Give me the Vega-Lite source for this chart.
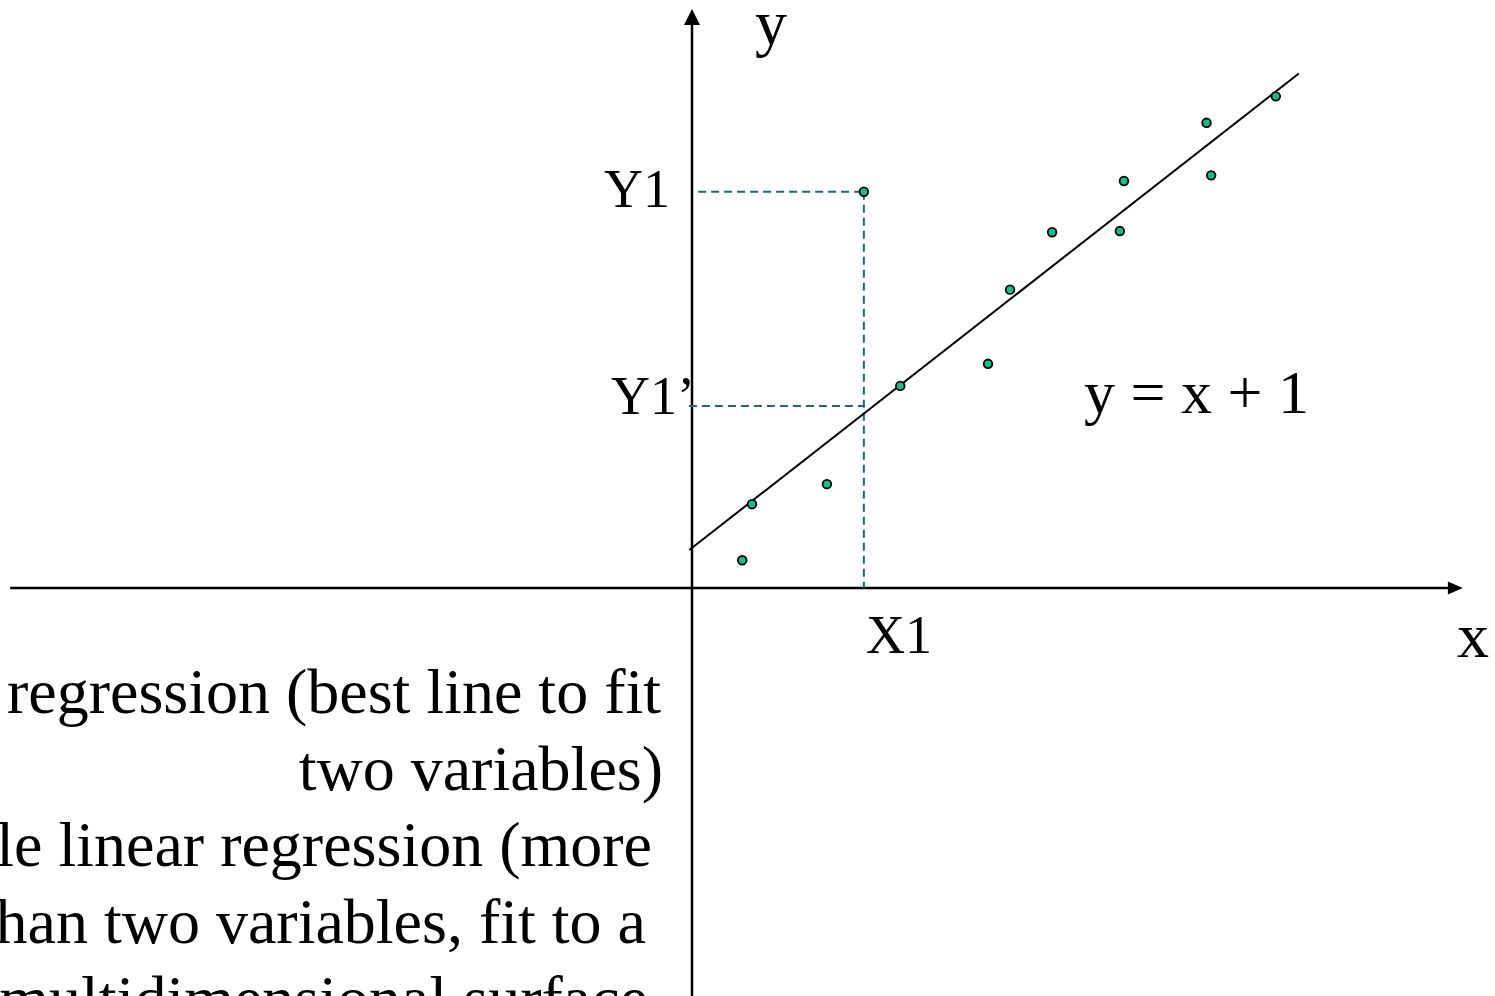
{
  "$schema": "https://vega.github.io/schema/vega-lite/v6.json",
  "width": 1495,
  "height": 996,
  "autosize": {"type": "none"},
  "padding": 0,
  "background": "white",
  "config": {"view": {"stroke": null}},
  "datasets": {
    "axes": [
      {"x": -13.29, "y": 0, "x2": 14.75, "y2": 0},
      {"x": 0, "y": -10.4, "x2": 0, "y2": 14.05}
    ],
    "arrows": [
      {"x": 14.88, "y": 0, "shape": "M-1,-0.87L1,0L-1,0.87Z", "size": 225},
      {"x": 0, "y": 14.24, "shape": "M-1,1L0,-1L1,1Z", "size": 256}
    ],
    "fit": [
      {"x": -0.053, "y": 0.947, "x2": 11.83, "y2": 12.83}
    ],
    "guides": [
      {"x": 0.12, "y": 9.88, "x2": 3.35, "y2": 9.88},
      {"x": 3.35, "y": 9.88, "x2": 3.35, "y2": 0},
      {"x": -0.06, "y": 4.54, "x2": 3.35, "y2": 4.54}
    ],
    "points": [
      {"x": 0.98, "y": 0.69},
      {"x": 1.17, "y": 2.09},
      {"x": 2.63, "y": 2.59},
      {"x": 3.35, "y": 9.88},
      {"x": 4.06, "y": 5.04},
      {"x": 5.77, "y": 5.59},
      {"x": 6.20, "y": 7.44},
      {"x": 7.02, "y": 8.87},
      {"x": 8.34, "y": 8.90},
      {"x": 8.42, "y": 10.15},
      {"x": 10.03, "y": 11.60},
      {"x": 10.12, "y": 10.29},
      {"x": 11.38, "y": 12.26}
    ],
    "labels": [
      {"x": 1.228, "y": 13.566, "text": "y", "size": 64},
      {"x": 14.912, "y": -1.721, "text": "x", "size": 64},
      {"x": -1.715, "y": 9.501, "text": "Y1", "size": 54},
      {"x": -1.579, "y": 4.339, "text": "Y1’", "size": 54},
      {"x": 3.392, "y": -1.621, "text": "X1", "size": 54},
      {"x": 7.641, "y": 4.364, "text": "y = x + 1", "size": 62}
    ],
    "paragraph": [
      {"x": -0.604, "y": -3.117, "text": "regression (best line to fit"},
      {"x": -0.565, "y": -5.037, "text": "two variables)"},
      {"x": -0.780, "y": -6.933, "text": "le linear regression (more"},
      {"x": -0.897, "y": -8.853, "text": "han two variables, fit to a"},
      {"x": -0.858, "y": -10.773, "text": "multidimensional surface"}
    ]
  },
  "encoding": {
    "x": {"field": "x", "type": "quantitative", "axis": null, "scale": {"domain": [-13.489, 15.653], "nice": false, "zero": false}},
    "y": {"field": "y", "type": "quantitative", "axis": null, "scale": {"domain": [-10.175, 14.663], "nice": false, "zero": false}}
  },
  "layer": [
    {
      "data": {"name": "axes"},
      "mark": {"type": "rule", "color": "black", "strokeWidth": 2.5, "clip": true},
      "encoding": {"x2": {"field": "x2"}, "y2": {"field": "y2"}}
    },
    {
      "data": {"name": "arrows"},
      "mark": {"type": "point", "filled": true, "color": "black", "opacity": 1, "strokeWidth": 0, "clip": true},
      "encoding": {
        "shape": {"field": "shape", "type": "nominal", "scale": null},
        "size": {"field": "size", "type": "quantitative", "scale": null}
      }
    },
    {
      "data": {"name": "guides"},
      "mark": {"type": "rule", "color": "#1a6b6b", "strokeWidth": 2, "strokeDash": [8, 5], "clip": true},
      "encoding": {"x2": {"field": "x2"}, "y2": {"field": "y2"}}
    },
    {
      "data": {"name": "fit"},
      "mark": {"type": "rule", "color": "black", "strokeWidth": 2, "clip": true},
      "encoding": {"x2": {"field": "x2"}, "y2": {"field": "y2"}}
    },
    {
      "data": {"name": "points"},
      "mark": {"type": "circle", "size": 75, "fill": "#0fbf8f", "stroke": "black", "strokeWidth": 1.8, "opacity": 1, "clip": true},
      "encoding": {}
    },
    {
      "data": {"name": "labels"},
      "mark": {"type": "text", "font": "Liberation Serif", "align": "left", "baseline": "alphabetic", "color": "black", "clip": true},
      "encoding": {
        "text": {"field": "text"},
        "size": {"field": "size", "type": "quantitative", "scale": null}
      }
    },
    {
      "data": {"name": "paragraph"},
      "mark": {"type": "text", "font": "Liberation Serif", "fontSize": 64, "align": "right", "baseline": "alphabetic", "color": "black", "clip": true},
      "encoding": {"text": {"field": "text"}}
    }
  ]
}
